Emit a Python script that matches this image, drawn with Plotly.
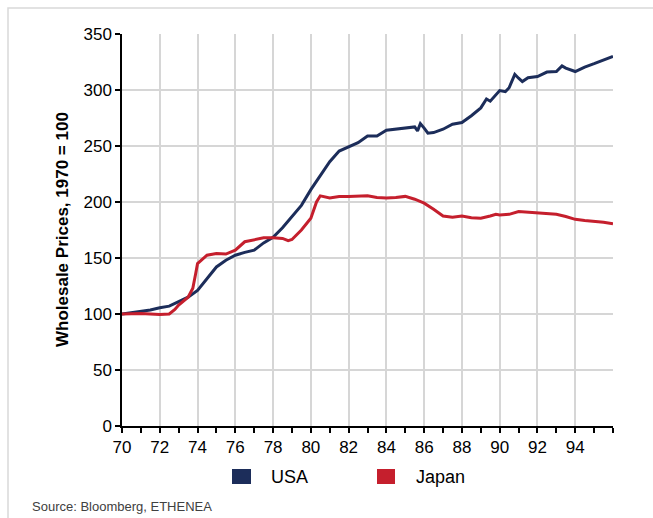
import plotly.graph_objects as go

# Wholesale price indices, 1970 = 100 (decimal years, '70 = 1970)
usa_years = [70.0, 70.5, 71.0, 71.5, 72.0, 72.5, 73.0, 73.5, 74.0, 74.5,
             75.0, 75.5, 76.0, 76.5, 77.0, 77.5, 78.0, 78.5, 79.0, 79.5,
             80.0, 80.5, 81.0, 81.5, 82.0, 82.5, 83.0, 83.5, 84.0, 84.5,
             85.0, 85.5, 85.65, 85.8, 86.0, 86.2, 86.5, 87.0, 87.5, 88.0,
             88.5, 89.0, 89.3, 89.5, 90.0, 90.3, 90.5, 90.8, 91.0, 91.2,
             91.5, 92.0, 92.5, 93.0, 93.3, 93.5, 94.0, 94.5, 95.0, 95.5, 96.0]
usa_index = [100, 101, 102.5, 103.5, 105.5, 107, 111, 115, 121, 132,
             142, 148, 152.5, 155, 157, 163.5, 168.5, 177, 187, 197,
             211, 224, 236, 245.5, 249.5, 253, 259, 259, 264, 265,
             266, 267, 263.5, 270, 266, 261.5, 262, 265, 269.5, 271,
             277, 284, 292, 290, 299.5, 298.5, 302, 314, 310.5, 307.5,
             311, 312, 316, 316.5, 321.5, 319.5, 316.5, 320.5, 323.5, 327, 330]

japan_years = [70.0, 71.0, 72.0, 72.5, 72.8, 73.0, 73.5, 73.75, 73.9, 74.0,
               74.5, 75.0, 75.5, 76.0, 76.5, 77.0, 77.5, 78.0, 78.5, 78.8,
               79.0, 79.5, 80.0, 80.3, 80.5, 81.0, 81.5, 82.0, 82.5, 83.0,
               83.5, 84.0, 84.5, 85.0, 85.5, 86.0, 86.5, 87.0, 87.5, 88.0,
               88.5, 89.0, 89.5, 89.8, 90.0, 90.5, 91.0, 91.5, 92.0, 92.5,
               93.0, 93.5, 94.0, 94.5, 95.0, 95.5, 96.0]
japan_index = [100, 100.5, 99.5, 100, 104, 108, 115, 123, 136, 145,
               152.5, 154, 153.5, 157, 164.5, 166.5, 168, 168, 167.5, 165.5,
               166.5, 175, 185.5, 200, 205.5, 203.5, 205, 205, 205, 205.5,
               204, 203.5, 204, 205, 202.5, 199, 193.5, 187.5, 186.5, 187.5,
               186, 185.5, 187.5, 189, 188.5, 189, 191.5, 191, 190.5, 190,
               189, 187, 184.5, 183.5, 183, 182, 180.5]

x_tickvals = [70, 72, 74, 76, 78, 80, 82, 84, 86, 88, 90, 92, 94, 96]
x_ticktext = ["70", "72", "74", "76", "78", "80", "82", "84", "86", "88",
              "90", "92", "94", ""]
y_tickvals = [0, 50, 100, 150, 200, 250, 300, 350]

series_names = ["USA", "Japan"]
USA_COLOR = "#1c2d5a"
JAPAN_COLOR = "#c51f2d"
FONT = "Liberation Sans, Arial, sans-serif"

fig = go.Figure()
fig.add_trace(go.Scatter(x=usa_years, y=usa_index, mode="lines", name=series_names[0],
                         line=dict(color=USA_COLOR, width=3), showlegend=False))
fig.add_trace(go.Scatter(x=japan_years, y=japan_index, mode="lines", name=series_names[1],
                         line=dict(color=JAPAN_COLOR, width=3), showlegend=False))

L, R, T, B = 122, 40, 34, 92
W, H = 653, 518
pw, ph = W - L - R, H - T - B


def px_x(p):
    return (p - L) / pw


def px_y(p):
    return (H - B - p) / ph


shapes = [
    # outer frame
    dict(type="rect", xref="paper", yref="paper",
         x0=px_x(8), x1=px_x(720), y0=px_y(580), y1=px_y(8),
         line=dict(color="#d9d9d9", width=1.5), fillcolor="rgba(0,0,0,0)", layer="below"),
    # legend swatches
    dict(type="rect", xref="paper", yref="paper",
         x0=px_x(232), x1=px_x(251), y0=px_y(484), y1=px_y(469),
         line=dict(width=0), fillcolor=USA_COLOR),
    dict(type="rect", xref="paper", yref="paper",
         x0=px_x(377), x1=px_x(395), y0=px_y(484), y1=px_y(469),
         line=dict(width=0), fillcolor=JAPAN_COLOR),
]

annotations = [
    dict(text="<b>Wholesale Prices, 1970 = 100</b>", xref="paper", yref="paper",
         x=px_x(62), y=0.5, textangle=-90, showarrow=False,
         xanchor="center", yanchor="middle",
         font=dict(family=FONT, size=17, color="#000000")),
    dict(text=series_names[0], xref="paper", yref="paper", x=px_x(269), y=px_y(477),
         xanchor="left", yanchor="middle", showarrow=False,
         font=dict(family=FONT, size=18, color="#000000")),
    dict(text=series_names[1], xref="paper", yref="paper", x=px_x(414), y=px_y(477),
         xanchor="left", yanchor="middle", showarrow=False,
         font=dict(family=FONT, size=18, color="#000000")),
    dict(text="Source: Bloomberg, ETHENEA", xref="paper", yref="paper",
         x=px_x(30), y=px_y(506), xanchor="left", yanchor="middle", showarrow=False,
         font=dict(family=FONT, size=13, color="#404040")),
]

fig.update_layout(
    width=W, height=H,
    margin=dict(l=L, r=R, t=T, b=B),
    paper_bgcolor="white", plot_bgcolor="white",
    font=dict(family=FONT, size=17, color="#000000"),
    shapes=shapes, annotations=annotations,
    showlegend=False,
)
fig.update_xaxes(
    range=[70, 96], tickmode="array", tickvals=x_tickvals, ticktext=x_ticktext,
    showgrid=True, gridcolor="#d6d6d6", gridwidth=1.5,
    showline=True, linecolor="#000000", linewidth=1.5,
    ticks="outside", ticklen=5, tickcolor="#000000", tickwidth=1.5,
    minor=dict(dtick=1, ticks="outside", ticklen=5, tickcolor="#000000",
               tickwidth=1.5, showgrid=False),
    tickfont=dict(family=FONT, size=17, color="#000000"),
    zeroline=False,
)
fig.update_yaxes(
    range=[0, 350], tickmode="array", tickvals=y_tickvals,
    showgrid=True, gridcolor="#d6d6d6", gridwidth=1.5,
    showline=True, linecolor="#000000", linewidth=1.5,
    ticks="outside", ticklen=5, tickcolor="#000000", tickwidth=1.5,
    tickfont=dict(family=FONT, size=17, color="#000000"),
    zeroline=False,
)

fig.write_html("out.html")
